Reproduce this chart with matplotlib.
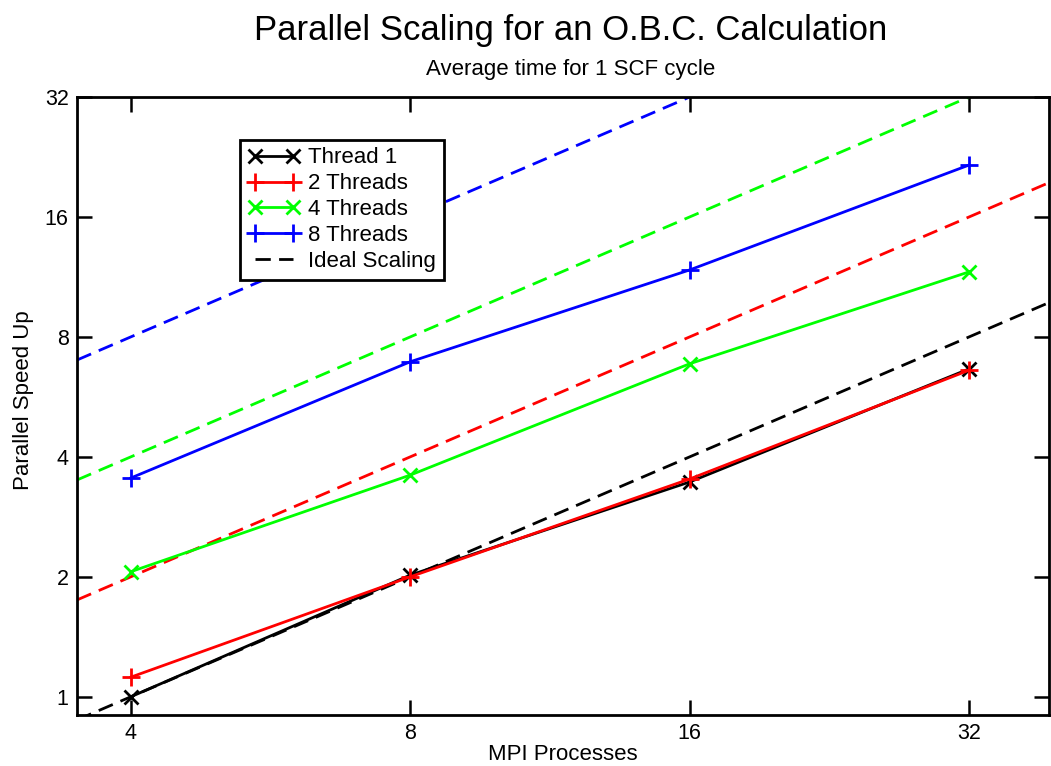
import numpy as np
import matplotlib
matplotlib.use("Agg")
import matplotlib.pyplot as plt
from matplotlib.ticker import FixedLocator, FixedFormatter, NullLocator

plt.rcParams['font.family'] = ['Liberation Sans', 'DejaVu Sans']

# data
mpi = [4, 8, 16, 32]
thread1 = [1.00, 2.02, 3.46, 6.65]
threads2 = [1.12, 2.00, 3.52, 6.60]
threads4 = [2.06, 3.60, 6.85, 11.65]
threads8 = [3.54, 6.93, 11.78, 21.6]

# ideal scaling: speed-up relative to 4 MPI procs, offset per thread count
ideal_factor = [0.25, 0.5, 1.0, 2.0]
colors = ['black', '#ff0000', '#00ff00', '#0000ff']

xlim = (3.5, 39.0)
ylim = (0.9, 32.0)

DASH = (0, (5.5, 3.0))
LW = 2.0

fig = plt.figure(figsize=(10.51, 7.66), dpi=100)
ax = fig.add_axes([0.0733, 0.0666, 0.9247, 0.8068])

series = [
    (thread1, 'Thread 1', 'x', 10, colors[0]),
    (threads2, '2 Threads', '+', 13, colors[1]),
    (threads4, '4 Threads', 'x', 10, colors[2]),
    (threads8, '8 Threads', '+', 13, colors[3]),
]

xs = np.array(xlim)
for f, c in zip(ideal_factor, colors):
    ax.plot(xs, f * xs, color=c, lw=LW, ls=DASH, zorder=2)

handles = []
for ys, lab, mk, ms, c in series:
    h, = ax.plot(mpi, ys, color=c, lw=LW, marker=mk, ms=ms, mew=2, label=lab, zorder=3)
    handles.append(h)
ideal_h, = ax.plot([], [], color='black', lw=LW, ls=DASH, label='Ideal Scaling')
handles.append(ideal_h)

ax.set_xscale('log', base=2)
ax.set_yscale('log', base=2)
ax.set_xlim(*xlim)
ax.set_ylim(*ylim)

xt = [4, 8, 16, 32]
yt = [1, 2, 4, 8, 16, 32]
ax.xaxis.set_major_locator(FixedLocator(xt))
ax.xaxis.set_major_formatter(FixedFormatter([str(v) for v in xt]))
ax.yaxis.set_major_locator(FixedLocator(yt))
ax.yaxis.set_major_formatter(FixedFormatter([str(v) for v in yt]))
ax.xaxis.set_minor_locator(NullLocator())
ax.yaxis.set_minor_locator(NullLocator())
ax.tick_params(which='major', direction='in', length=11, width=1.8,
               top=True, right=True, labelsize=15.5, pad=6)

for s in ax.spines.values():
    s.set_linewidth(2)

ax.set_xlabel('MPI Processes', fontsize=16, labelpad=0)
ax.set_ylabel('Parallel Speed Up', fontsize=16)
ax.yaxis.set_label_coords(-0.044, 0.51)

fig.text(0.543, 0.960, 'Parallel Scaling for an O.B.C. Calculation', ha='center', va='center', fontsize=25)
fig.text(0.543, 0.909, 'Average time for 1 SCF cycle', ha='center', va='center', fontsize=16)

leg = ax.legend(handles=handles, loc='upper left', bbox_to_anchor=(0.168, 0.931),
                numpoints=2, fontsize=16, frameon=True, fancybox=False,
                edgecolor='black', framealpha=1, handlelength=2.3,
                labelspacing=0.22, handletextpad=0.4, borderpad=0.35, borderaxespad=0)
leg.get_frame().set_linewidth(2)

fig.savefig('out.png', dpi=100)
